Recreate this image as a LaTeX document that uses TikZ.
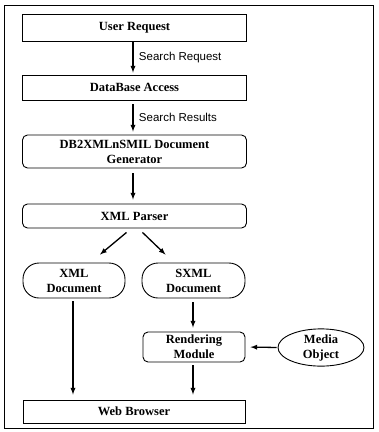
\documentclass[tikz,border=0pt]{standalone}
\usepackage{fontspec}
\setmainfont{Liberation Serif}
\newfontfamily\labelfont{Liberation Sans}
\usetikzlibrary{shapes.geometric}

\begin{document}
\begin{tikzpicture}[>=latex, x=1pt, y=-1pt,
        box/.style={rectangle, draw, line width=0.9pt, font=\fontsize{12.5}{15}\selectfont\bfseries, align=center, inner sep=1pt},
        rbox/.style={box, rounded corners=5pt},
        pill/.style={box, rounded corners=16pt},
        flow/.style={->, line width=1.3pt},
        lbl/.style={font=\labelfont\fontsize{11.5}{13}\selectfont, right, xshift=2pt}]

        \useasboundingbox (0,0) rectangle (379,432);
        \draw[line width=1pt] (4,5) rectangle (373,428);

        % nodes
        \node[box, minimum width=224pt, minimum height=27pt] (usr) at (134.5,27.5) {User Request};
        \node[box, minimum width=224pt, minimum height=25pt] (dba) at (134.5,87.5) {DataBase Access};
        \node[rbox, minimum width=224pt, minimum height=33pt] (gen) at (134.5,151.5) {DB2XMLnSMIL Document\\Generator};
        \node[rbox, minimum width=224pt, minimum height=24pt] (xmlp) at (134.5,216) {XML Parser};
        \node[pill, minimum width=102pt, minimum height=35pt] (xmld) at (74,280.5) {XML\\Document};
        \node[pill, minimum width=103pt, minimum height=35pt] (sxml) at (193.5,280.5) {SXML\\Document};
        \node[rbox, minimum width=102pt, minimum height=30pt] (rend) at (194,347) {Rendering\\Module};
        \node[ellipse, draw, line width=0.9pt, font=\fontsize{12.5}{15}\selectfont\bfseries, align=center, inner sep=0pt, minimum width=86pt, minimum height=31pt] (media) at (321,347.5) {Media\\Object};
        \node[box, minimum width=222pt, minimum height=23pt] (web) at (134,411.5) {Web Browser};

        % edges down the chain
        \draw[flow, shorten >=2pt] ([xshift=-1.5pt]usr.south) -- node[lbl] {Search Request} ([xshift=-1.5pt]dba.north);
        \draw[flow, shorten <=4pt, shorten >=3pt] ([xshift=-1.5pt]dba.south) -- node[lbl] {Search Results} ([xshift=-1.5pt]gen.north);
        \draw[flow, shorten <=5pt, shorten >=4pt] ([xshift=-1.5pt]gen.south) -- ([xshift=-1.5pt]xmlp.north);

        % edges from the parser
        \draw[flow] ([xshift=-8pt,yshift=-4pt]xmlp.south) -- ([xshift=26pt,yshift=8pt]xmld.north);
        \draw[flow] ([xshift=8pt,yshift=-4pt]xmlp.south) -- ([xshift=-28pt,yshift=8pt]sxml.north);

        % edges to the browser
        \draw[flow, shorten <=3pt, shorten >=5pt] ([xshift=-1pt]xmld.south) -- ([xshift=-1pt]xmld.south |- web.north);
        \draw[flow, shorten <=4pt, shorten >=4pt] ([xshift=-0.5pt]sxml.south) -- ([xshift=-1pt]rend.north);
        \draw[flow, shorten <=3pt, shorten >=5pt] ([xshift=-1pt]rend.south) -- ([xshift=-1pt]rend.south |- web.north);

        % media object
        \draw[flow, shorten <=1pt, shorten >=5pt] (media.west) -- (rend.east);

        \end{tikzpicture}
\end{document}
